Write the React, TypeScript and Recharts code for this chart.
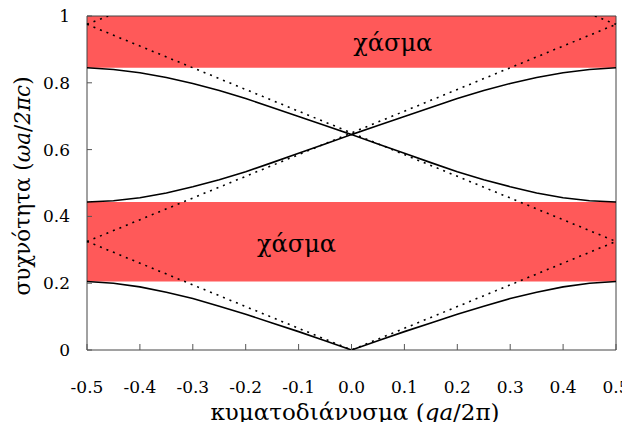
import React from "react";
import {
  ComposedChart,
  Line,
  XAxis,
  YAxis,
  ReferenceArea,
  ReferenceDot,
  Label,
} from "recharts";

// wave vector qa/2π
const qValues = [
  -0.5, -0.45, -0.4, -0.35, -0.3, -0.25, -0.2, -0.15, -0.1, -0.05, 0,
  0.05, 0.1, 0.15, 0.2, 0.25, 0.3, 0.35, 0.4, 0.45, 0.5,
];

// bands, frequency ωa/2πc
const band1 = [
  0.205, 0.2, 0.189, 0.173, 0.154, 0.131, 0.107, 0.081, 0.055, 0.028, 0,
  0.028, 0.055, 0.081, 0.107, 0.131, 0.154, 0.173, 0.189, 0.2, 0.205,
];
const band2 = [
  0.443, 0.447, 0.456, 0.47, 0.489, 0.51, 0.534, 0.561, 0.589, 0.617, 0.645,
  0.617, 0.589, 0.561, 0.534, 0.51, 0.489, 0.47, 0.456, 0.447, 0.443,
];
const band3 = [
  0.845, 0.84, 0.83, 0.816, 0.798, 0.777, 0.753, 0.726, 0.699, 0.672, 0.645,
  0.672, 0.699, 0.726, 0.753, 0.777, 0.798, 0.816, 0.83, 0.84, 0.845,
];

// folded light lines (dotted)
const lightA = [
  { q: -0.5, w: 0.325 },
  { q: 0, w: 0 },
  { q: 0.5, w: 0.325 },
];
const lightB = [
  { q: -0.5, w: 0.325 },
  { q: 0.5, w: 0.975 },
];
const lightC = [
  { q: -0.5, w: 0.975 },
  { q: 0.5, w: 0.325 },
];
const lightD = [
  { q: -0.5, w: 0.975 },
  { q: -0.46, w: 1.0 },
];
const lightE = [
  { q: 0.46, w: 1.0 },
  { q: 0.5, w: 0.975 },
];

// photonic band gaps
const gaps = [
  { from: 0.205, to: 0.443 },
  { from: 0.845, to: 1.0 },
];

const xTicks = [-0.5, -0.4, -0.3, -0.2, -0.1, 0, 0.1, 0.2, 0.3, 0.4, 0.5];
const yTicks = [0, 0.2, 0.4, 0.6, 0.8, 1];

const data = qValues.map((q, i) => ({
  q,
  b1: band1[i],
  b2: band2[i],
  b3: band3[i],
}));

const font = "DejaVu Serif";
const tickStyle = { fill: "#000", fontFamily: font, fontSize: 17 };

const XTitle = () => (
  <text x={355} y={420} textAnchor="middle" fontFamily={font} fontSize={23} fill="#000">
    κυματοδιάνυσμα (<tspan fontStyle="italic">qa</tspan>/2π)
  </text>
);

const YTitle = () => (
  <text
    x={22}
    y={186}
    transform="rotate(-90, 22, 186)"
    textAnchor="middle"
    dominantBaseline="central"
    fontFamily={font}
    fontSize={21.5}
    fill="#000"
  >
    συχνότητα (<tspan fontStyle="italic">ωa</tspan>/<tspan fontStyle="italic">2πc</tspan>)
  </text>
);

const gapLabel = { value: "χάσμα", position: "center" as const, fontFamily: font, fontSize: 24, fill: "#000" };

export default function App() {
  const dotted = { stroke: "#000", strokeWidth: 1.6, strokeDasharray: "2 5", dot: false, isAnimationActive: false, type: "linear" as const };
  return (
    <div style={{ margin: -8, width: 630, height: 430 }}>
      <ComposedChart width={630} height={430} data={data} margin={{ top: 16, right: 14, left: 0, bottom: 0 }}>
        {gaps.map((g, i) => (
          <ReferenceArea key={i} x1={-0.5} x2={0.5} y1={g.from} y2={g.to} fill="#ff5959" fillOpacity={1} stroke="none" />
        ))}
        <XAxis
          dataKey="q"
          type="number"
          domain={[-0.5, 0.5]}
          ticks={xTicks}
          tickFormatter={(v: number) => v.toFixed(1)}
          tick={tickStyle}
          tickSize={-6}
          tickMargin={37}
          tickLine={{ stroke: "#555" }}
          axisLine={false}
          height={80}
          interval={0}
        >
          <Label content={XTitle} />
        </XAxis>
        <YAxis
          type="number"
          domain={[0, 1]}
          ticks={yTicks}
          allowDataOverflow
          tickFormatter={(v: number) => (v === 0 || v === 1 ? String(v) : v.toFixed(1))}
          tick={tickStyle}
          tickSize={-5}
          tickMargin={22}
          tickLine={{ stroke: "#555" }}
          axisLine={false}
          width={87}
          interval={0}
        >
          <Label content={YTitle} />
        </YAxis>
        <Line data={lightA} dataKey="w" {...dotted} />
        <Line data={lightB} dataKey="w" {...dotted} />
        <Line data={lightC} dataKey="w" {...dotted} />
        <Line data={lightD} dataKey="w" {...dotted} />
        <Line data={lightE} dataKey="w" {...dotted} />
        <Line dataKey="b1" type="linear" stroke="#000" strokeWidth={1.6} dot={false} isAnimationActive={false} />
        <Line dataKey="b2" type="linear" stroke="#000" strokeWidth={1.6} dot={false} isAnimationActive={false} />
        <Line dataKey="b3" type="linear" stroke="#000" strokeWidth={1.6} dot={false} isAnimationActive={false} />
        <ReferenceDot x={0.078} y={0.922} r={0} fill="none" stroke="none" label={gapLabel} />
        <ReferenceDot x={-0.104} y={0.32} r={0} fill="none" stroke="none" label={gapLabel} />
        <ReferenceArea x1={-0.5} x2={0.5} y1={0} y2={1} fill="none" stroke="#444" strokeWidth={1} />
      </ComposedChart>
    </div>
  );
}
